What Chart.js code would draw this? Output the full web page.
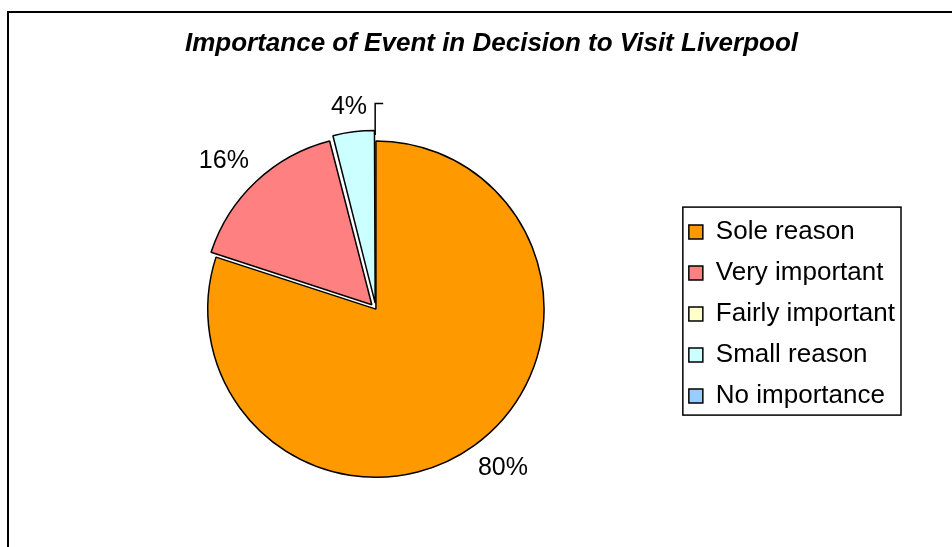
<!DOCTYPE html>
<html>
<head>
<meta charset="utf-8">
<script src="https://cdn.jsdelivr.net/npm/chart.js@4.4.1/dist/chart.umd.min.js"></script>
<style>
  html, body { margin: 0; padding: 0; background: #fff; }
  #wrap { width: 952px; height: 547px; position: relative; }
</style>
</head>
<body>
<div id="wrap"><canvas id="pieChart"></canvas></div>
<script>
const categories = ['Sole reason', 'Very important', 'Fairly important', 'Small reason', 'No importance'];
const shares = [80, 16, 0, 4, 0];
const sliceColors = ['#FF9900', '#FF8080', '#FFFFCC', '#CCFFFF', '#99CCFF'];
// pulled-out distance of each slice, in pixels
const slicePull = [0, 6, 0, 6, 0];
const chartTitle = 'Importance of Event in Decision to Visit Liverpool';

const fontFamily = "'Liberation Sans', Arial, sans-serif";

// frame line on the left and top, like the excel chart border
const framePlugin = {
    id: 'frame',
    beforeDraw(chart) {
        const c = chart.ctx;
        c.save();
        c.strokeStyle = '#000';
        c.lineWidth = 2;
        c.beginPath();
        c.moveTo(8, chart.height);
        c.lineTo(8, 12);
        c.lineTo(chart.width, 12);
        c.stroke();
        c.restore();
    }
};

// box round the legend
const legendBoxPlugin = {
    id: 'legendBox',
    afterDraw(chart) {
        const hits = chart.legend.legendHitBoxes;
        if (!hits || !hits.length) return;
        let left = Infinity, right = -Infinity;
        hits.forEach(h => {
            left = Math.min(left, h.left);
            right = Math.max(right, h.left + h.width);
        });
        const last = hits[hits.length - 1];
        const top = hits[0].top - 12;
        const bottom = last.top + last.height + 6;
        const c = chart.ctx;
        c.save();
        c.strokeStyle = '#000';
        c.lineWidth = 1.5;
        c.strokeRect(left - 6, top, right - left + 12, bottom - top);
        c.restore();
    }
};

// percentage labels outside the slices
const pctLabelPlugin = {
    id: 'pctLabels',
    afterDatasetsDraw(chart) {
        const meta = chart.getDatasetMeta(0);
        const data = chart.data.datasets[0].data;
        const total = data.reduce((a, b) => a + b, 0);
        const c = chart.ctx;
        c.save();
        c.font = '25px ' + fontFamily;
        c.fillStyle = '#000';
        c.textAlign = 'center';
        c.textBaseline = 'middle';
        meta.data.forEach((arc, i) => {
            const v = data[i];
            if (!v) return;
            const p = arc.getProps(['x', 'y', 'startAngle', 'endAngle', 'outerRadius'], true);
            const off = slicePull[i];
            const mid = (p.startAngle + p.endAngle) / 2;
            const txt = Math.round(v / total * 100) + '%';
            const w = c.measureText(txt).width;
            const d = p.outerRadius + off + 23;
            const lx = p.x + Math.cos(mid) * d + Math.cos(mid) * w / 2;
            const ly = p.y + Math.sin(mid) * d + Math.sin(mid) * 6;
            c.fillText(txt, lx, ly);
            if (v / total < 0.05) {
                // leader line from slice corner
                const cx = p.x + Math.cos(mid) * off + Math.cos(p.endAngle) * p.outerRadius;
                const cy = p.y + Math.sin(mid) * off + Math.sin(p.endAngle) * p.outerRadius;
                c.strokeStyle = '#000';
                c.lineWidth = 1.5;
                c.beginPath();
                c.moveTo(cx, cy);
                c.lineTo(cx, ly - 4);
                c.lineTo(cx + 8, ly - 4);
                c.stroke();
            }
        });
        c.restore();
    }
};

new Chart(document.getElementById('pieChart'), {
    type: 'pie',
    data: {
        labels: categories,
        datasets: [{
            data: shares,
            backgroundColor: sliceColors,
            borderColor: '#000',
            borderWidth: 1.5,
            // chart.js moves an arc by offset / 4
            offset: slicePull.map(o => o * 4)
        }]
    },
    options: {
        responsive: true,
        maintainAspectRatio: false,
        animation: false,
        layout: { padding: { left: 78, right: 47, top: 0, bottom: 57 } },
        plugins: {
            title: {
                display: true,
                text: chartTitle,
                color: '#000',
                font: { family: fontFamily, size: 26, style: 'italic', weight: 'bold' },
                padding: { top: 28, bottom: 69 }
            },
            legend: {
                position: 'right',
                fullSize: false,
                title: { display: true, text: '', padding: 0, font: { size: 10, lineHeight: 1 } },
                labels: {
                    color: '#000',
                    font: { family: fontFamily, size: 26 },
                    boxWidth: 14,
                    boxHeight: 14,
                    padding: 15
                }
            },
            tooltip: { enabled: false }
        }
    },
    plugins: [framePlugin, legendBoxPlugin, pctLabelPlugin]
});
</script>
</body>
</html>
